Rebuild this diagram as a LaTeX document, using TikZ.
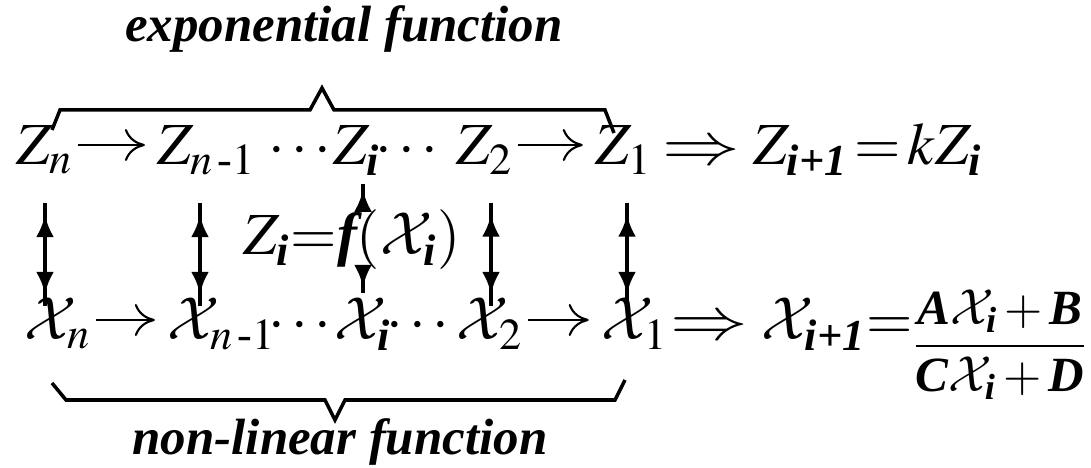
\documentclass[tikz,border=0pt]{standalone}
\usepackage{amsmath}
\usepackage{mathptmx}
\usepackage{fontspec}
\setmainfont{Liberation Serif}
\usetikzlibrary{arrows.meta}
\DeclareMathAlphabet{\mathcmcal}{OMS}{cmsy}{m}{n}
\newcommand{\bi}[1]{\text{\bfseries\itshape #1}}
\newcommand{\cx}{\mathcmcal{X}}
\newcommand{\impl}{\mathrel{\scalebox{1.3}[1]{$\Rightarrow$}}}

\begin{document}
\begin{tikzpicture}[
    term/.style={inner sep=0pt, anchor=base, font=\fontsize{17}{20}\selectfont},
    caption/.style={inner sep=0pt, anchor=base, font=\fontsize{14.5}{17}\selectfont\bfseries\itshape},
    flow/.style={-{To[length=2mm,width=3.2mm]}, line width=0.6pt, shorten <=0.4mm, shorten >=1.2mm},
    link/.style={line width=1.1pt, postaction={draw, shorten <=1.2mm, shorten >=1.2mm,
        {Latex[length=2.2mm,width=1.8mm]}-{Latex[length=2.2mm,width=1.8mm]}}},
    half/.style={line width=1.1pt, postaction={draw, shorten >=0.6mm,
        -{Latex[length=2.2mm,width=1.8mm]}}},
    brace/.style={line width=1pt}
]
    \useasboundingbox (0,0) rectangle (10.91,4.68);

    % Labels
    \node[caption] (explab) at (3.44,4.26) {exponential function};
    \node[caption] (nonlab) at (3.40,0.13) {non-linear function};

    % Z row
    \node[term] (zn)  at (0.45,3.03) {$Z_n$};
    \node[term] (zn1) at (2.07,3.03) {$Z_{n\,\text{-}1}$};
    \node[term] (zdl) at (3.03,3.03) {$\cdots$};
    \node[term] (zi)  at (3.57,3.03) {$Z_{\bi{i}}$};
    \node[term] (zdr) at (4.10,3.03) {$\cdots$};
    \node[term] (z2)  at (4.85,3.03) {$Z_2$};
    \node[term] (z1)  at (6.24,3.03) {$Z_1$};
    \node[term, anchor=base west] (zrel) at (6.62,3.03) {$\impl Z_{\bi{i+1}}\!=\!kZ_{\bi{i}}$};

    % X row
    \node[term] (xn)  at (0.58,1.28) {$\cx_n$};
    \node[term] (xn1) at (2.22,1.28) {$\cx_{n\,\text{-}1}$};
    \node[term] (xdl) at (3.03,1.28) {$\cdots$};
    \node[term] (xi)  at (3.63,1.28) {$\cx_{\bi{i}}$};
    \node[term] (xdr) at (4.21,1.28) {$\cdots$};
    \node[term] (x2)  at (4.90,1.28) {$\cx_2$};
    \node[term] (x1)  at (6.35,1.28) {$\cx_1$};
    \node[term, anchor=base west] (xrel) at (6.70,1.28) {$\impl \cx_{\bi{i+1}}\!\!=$};
    \node[anchor=east, inner sep=0pt, font=\fontsize{14}{17}\selectfont] (xfrac) at (10.89,1.23)
        {$\dfrac{\bi{A}\cx_{\bi{i}}+\bi{B}}{\bi{C}\cx_{\bi{i}}+\bi{D}}$};

    % relation between the rows
    \node[term] (rel) at (3.52,2.13) {$Z_{\bi{i}}{=}\bi{f}(\cx_{\bi{i}})$};

    % Arrows along the rows
    \draw[flow] ([yshift=2mm]zn.base east) -- ([yshift=2mm]zn1.base west);
    \draw[flow] ([yshift=2mm]z2.base east) -- ([yshift=2mm]z1.base west);
    \draw[flow] ([yshift=2mm]xn.base east) -- ([yshift=2mm]xn1.base west);
    \draw[flow] ([yshift=2mm]x2.base east) -- ([yshift=2mm]x1.base west);

    % Arrows between the rows
    \draw[link] ([yshift=-2.8mm]zn.south) -- ([yshift=-0.8mm]zn.south |- xn.north);
    \draw[link] ([xshift=-0.7mm,yshift=-2.8mm]zn1.south) -- ([xshift=-0.7mm,yshift=-0.8mm]zn1.south |- xn1.north);
    \draw[link] ([xshift=0.6mm,yshift=-2.8mm]z2.south) -- ([xshift=0.6mm,yshift=-0.8mm]z2.south |- x2.north);
    \draw[link] ([xshift=0.3mm,yshift=-2.8mm]z1.south) -- ([xshift=0.3mm,yshift=-0.8mm]z1.south |- x1.north);
    \draw[half] ([xshift=0.6mm,yshift=-3.2mm]zi.south) -- ([xshift=0.6mm,yshift=-0.8mm]zi.south);
    \draw[half] ([xshift=0.6mm,yshift=-0.3mm]zi.south |- rel.south) -- ([xshift=0.6mm,yshift=0.5mm]zi.south |- xi.north);

    % Braces
    \draw[brace] (0.52,3.38) -- (0.60,3.58) -- (3.10,3.58) -- (3.22,3.80)
        -- (3.34,3.58) -- (6.05,3.58) -- (6.14,3.35);
    \draw[brace] (0.52,0.85) -- (0.66,0.68) -- (3.25,0.68) -- (3.35,0.48)
        -- (3.45,0.68) -- (6.15,0.68) -- (6.25,0.88);
\end{tikzpicture}
\end{document}
